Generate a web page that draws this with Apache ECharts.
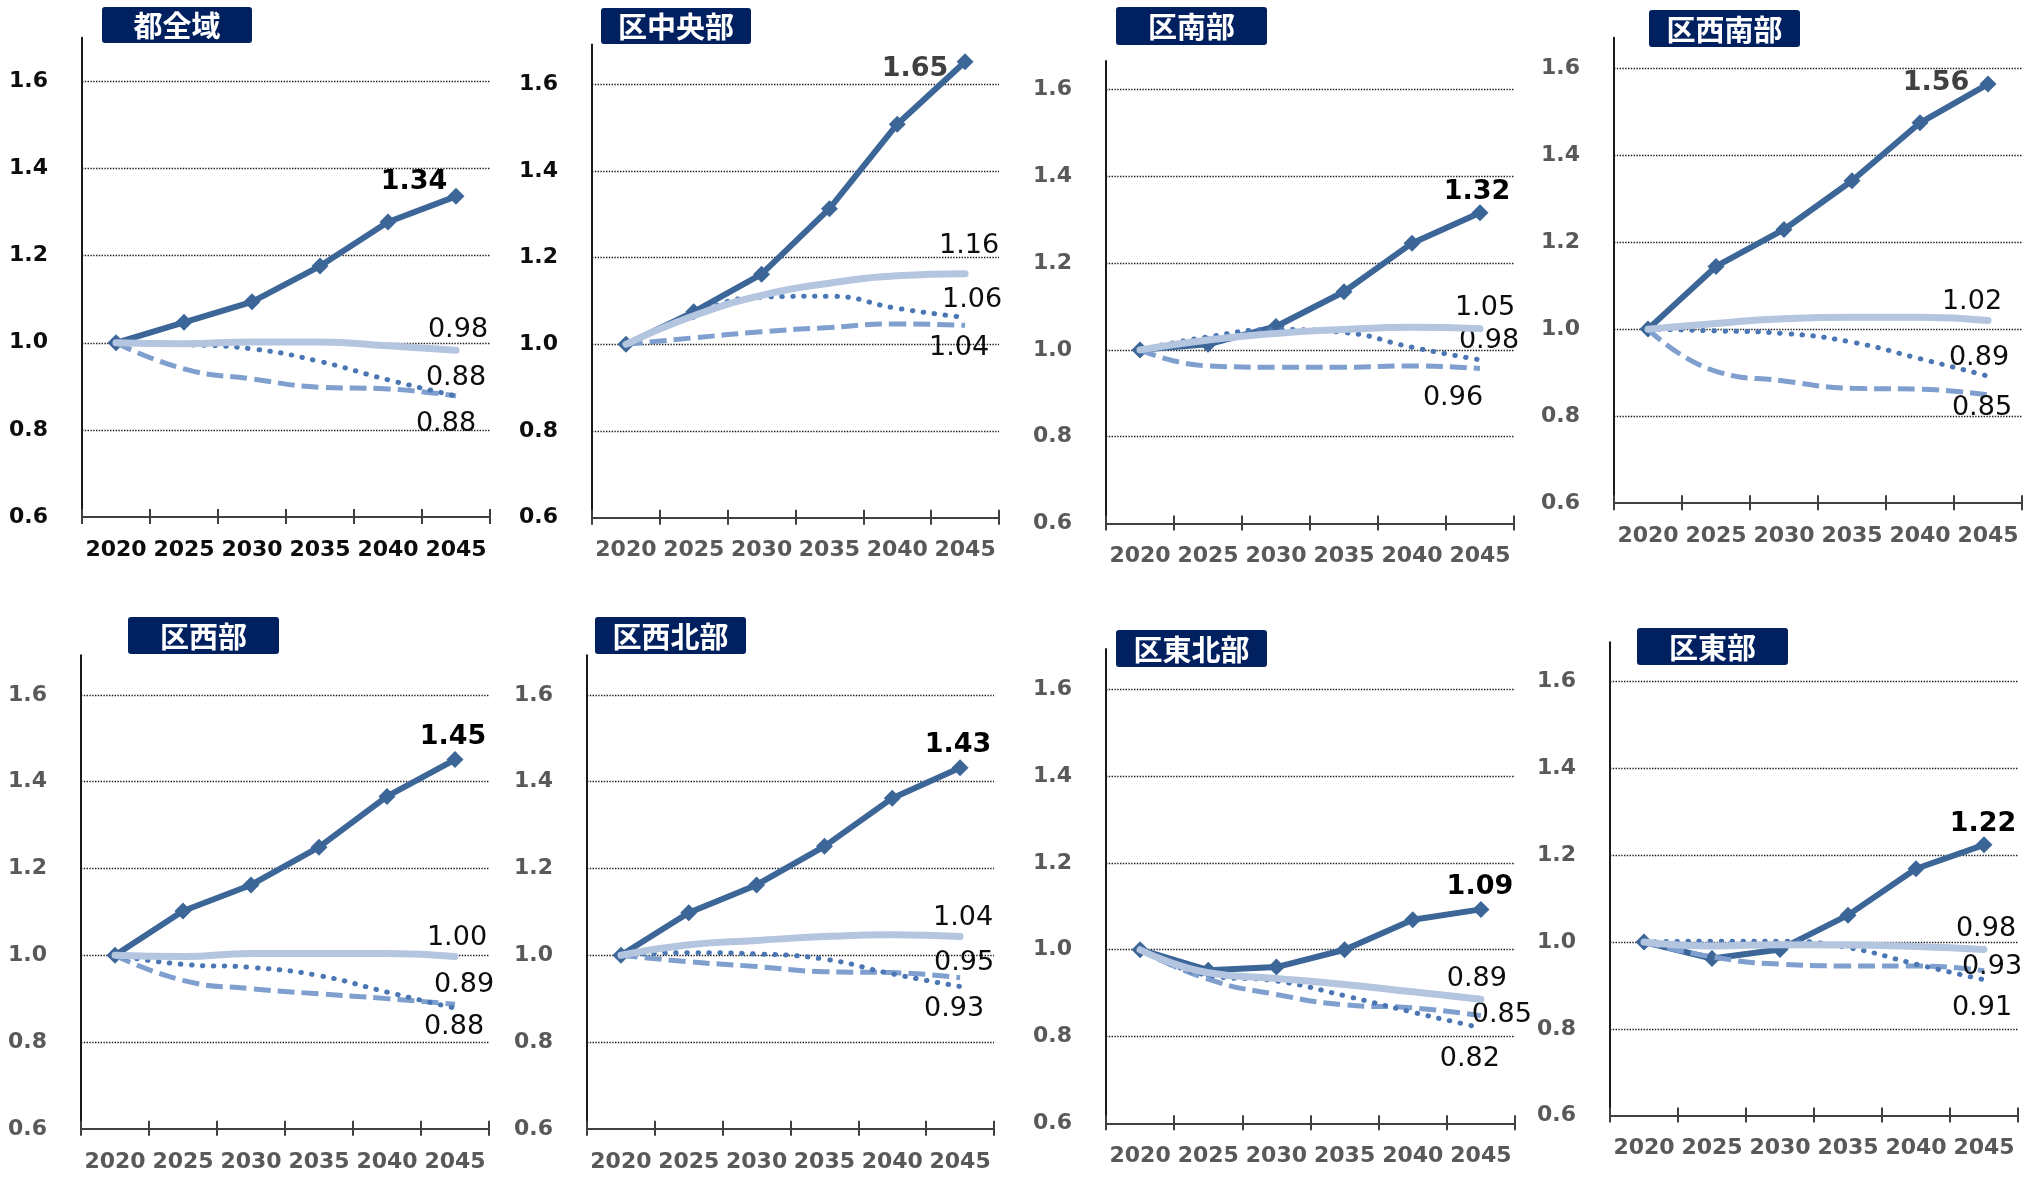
<!DOCTYPE html>
<html>
<head>
<meta charset="utf-8">
<script src="https://cdn.jsdelivr.net/npm/echarts@6/dist/echarts.min.js"></script>
<style>
html,body{margin:0;padding:0;background:#fff;}
#c{width:2026px;height:1177px;}
</style>
</head>
<body>
<div id="c"></div>
<script>
// ---- data ----
const years = ['2020','2025','2030','2035','2040','2045'];
const regions = ['都全域','区中央部','区南部','区西南部','区西部','区西北部','区東北部','区東部'];
const yTicks = [0.6, 0.8, 1.0, 1.2, 1.4, 1.6];

const mainValues = [
  [1.000,1.047,1.094,1.176,1.277,1.336],
  [1.000,1.075,1.162,1.313,1.508,1.652],
  [1.000,1.013,1.054,1.134,1.246,1.316],
  [1.000,1.144,1.229,1.341,1.474,1.563],
  [1.000,1.102,1.162,1.249,1.366,1.451],
  [1.000,1.098,1.162,1.251,1.362,1.432],
  [1.000,0.953,0.960,1.000,1.069,1.093],
  [1.000,0.962,0.983,1.062,1.169,1.224]
];
const lightValues = [
  [1.000,0.998,1.002,1.002,0.993,0.983],
  [1.000,1.066,1.113,1.141,1.158,1.163],
  [1.000,1.023,1.038,1.047,1.052,1.049],
  [1.000,1.013,1.024,1.027,1.027,1.020],
  [1.000,0.997,1.004,1.004,1.004,0.997],
  [1.000,1.024,1.034,1.043,1.047,1.043],
  [1.000,0.947,0.934,0.920,0.903,0.886],
  [1.000,0.991,0.994,0.993,0.990,0.983]
];
const dottedValues = [
  [1.000,0.996,0.986,0.957,0.915,0.878],
  [1.000,1.070,1.109,1.111,1.083,1.062],
  [1.000,1.030,1.047,1.040,1.006,0.977],
  [1.000,0.996,0.990,0.970,0.932,0.892],
  [1.000,0.979,0.972,0.953,0.915,0.878],
  [1.000,1.006,1.003,0.991,0.957,0.928],
  [1.000,0.941,0.928,0.894,0.856,0.820],
  [1.000,1.002,1.002,0.987,0.949,0.913]
];
const dashedValues = [
  [1.000,0.940,0.917,0.898,0.894,0.878],
  [1.000,1.015,1.029,1.039,1.047,1.044],
  [1.000,0.963,0.960,0.960,0.963,0.957],
  [1.000,0.903,0.881,0.864,0.862,0.849],
  [1.000,0.942,0.923,0.911,0.900,0.887],
  [1.000,0.985,0.974,0.962,0.960,0.948],
  [1.000,0.932,0.897,0.873,0.866,0.848],
  [1.000,0.966,0.949,0.945,0.945,0.934]
];

// ---- layout (pixels) ----
// [axisLeft, axisRight, axisTop, y of 1.6 gridline, y of 0.6 (x axis)]
const panelBox = [
  [82, 490, 37.7, 81.3, 517.1],
  [592, 999, 44.4, 84.3, 517.7],
  [1106, 1514, 61, 89.6, 523.4],
  [1614, 2022, 37.7, 68, 503.2],
  [81, 489, 655.2, 694.9, 1128.8],
  [587, 994, 655.2, 694.9, 1128.8],
  [1106, 1515, 648.9, 689.4, 1123.3],
  [1610, 2018, 642.3, 681.7, 1115.6]
];
// [x1, y1, x2, y2]
const titleBox = [
  [102, 7, 252, 43],
  [601, 8, 751, 44],
  [1116, 7, 1267, 45],
  [1649, 10, 1800, 47],
  [128, 617, 279, 654],
  [595, 617, 746, 654],
  [1116, 630, 1267, 667],
  [1637, 628, 1788, 665]
];
// label offsets [dx,dy] for main, light, dotted, dashed
const offMain   = [[-42,-14],[-50,7],[-3,-21],[-52,-1],[-2,-23],[-2,-23],[-1,-22],[-1,-21]];
const offLight  = [[2,-20],[4,-28],[5,-21],[-16,-18],[2,-19],[3,-19],[-4,-20],[2,-20]];
const offDotted = [[0,-18],[7,-17],[9,-19],[-9,-18],[-1,19],[-6,23],[-11,31],[-2,28]];
const offDashed = [[-10,28],[-6,23],[-27,29],[-6,13],[9,-19],[4,-15],[21,-1],[8,-4]];
const mainLabelColor = ['#000','#404040','#000','#404040','#000','#000','#000','#000'];
const yLabelColor = ['#0d0d0d','#0d0d0d','#595959','#595959','#595959','#595959','#595959','#595959'];
const xLabelColor = ['#0d0d0d','#595959','#595959','#595959','#595959','#595959','#595959','#595959'];

const C_MAIN = '#3d6698', C_LIGHT = '#b4c5df', C_DOT = '#4a76b4', C_DASH = '#7f9fcf';
const FONT = '"DejaVu Sans", Verdana, sans-serif';

const grids = [], xAxes = [], yAxes = [], series = [], graphics = [];

function withEndLabel(vals, offset, color, bold, keepSymbol) {
  const last = vals.length - 1;
  return vals.map((v, i) => {
    if (i !== last) return v;
    const item = {
      value: v,
      label: {
        show: true, position: 'inside', offset: offset,
        formatter: (p) => p.value.toFixed(2),
        color: color, fontFamily: FONT, fontSize: 27,
        fontWeight: bold ? 'bold' : 'normal', align: 'center', verticalAlign: 'middle'
      }
    };
    if (!keepSymbol) {
      item.symbol = 'circle';
      item.symbolSize = 2;
      item.itemStyle = {color: 'rgba(0,0,0,0)', borderWidth: 0};
    }
    return item;
  });
}

for (let i = 0; i < 8; i++) {
  const [L, R, T, g16, B] = panelBox[i];
  const step = (B - g16) / 5;
  const ymax = 1.6 + (g16 - T) / step * 0.2;
  grids.push({left: L, top: T, width: R - L, height: B - T, containLabel: false});
  xAxes.push({
    gridIndex: i, type: 'category', data: years, boundaryGap: true, position: 'bottom',
    axisLine: {show: true, lineStyle: {color: '#404040', width: 2}},
    axisTick: {show: true, length: 7, alignWithLabel: false, lineStyle: {color: '#404040', width: 2}},
    axisLabel: {margin: 22, color: xLabelColor[i], fontFamily: FONT, fontWeight: 'bold', fontSize: 22, interval: 0},
    splitLine: {show: false}
  });
  xAxes.push({
    gridIndex: i, type: 'category', data: years, boundaryGap: true, position: 'bottom', offset: 0,
    axisLine: {show: false},
    axisTick: {show: true, inside: true, length: 8, lineStyle: {color: '#404040', width: 2}},
    axisLabel: {show: false}, splitLine: {show: false}
  });
  yAxes.push({
    gridIndex: i, type: 'value', min: yTicks[0], max: ymax, interval: 0.2,
    axisLine: {show: true, lineStyle: {color: '#1a1a1a', width: 2}},
    axisTick: {show: false},
    axisLabel: {
      margin: 34, color: yLabelColor[i], fontFamily: FONT, fontWeight: 'bold', fontSize: 22,
      showMaxLabel: false, showMinLabel: true, padding: [0, 0, 5, 0],
      formatter: (v) => (yTicks.some(t => Math.abs(t - v) < 1e-6) ? v.toFixed(1) : '')
    },
    splitLine: {show: true, showMaxLine: false, showMinLine: false,
      lineStyle: {type: 'dotted', color: '#1a1a1a', width: 1.4}}
  });

  const xi = i * 2, yi = i;
  series.push({
    type: 'line', xAxisIndex: xi, yAxisIndex: yi, name: regions[i] + '-main',
    data: withEndLabel(mainValues[i], offMain[i], mainLabelColor[i], true, true),
    symbol: 'diamond', symbolSize: 17, showSymbol: true,
    itemStyle: {color: C_MAIN}, lineStyle: {color: C_MAIN, width: 6}, z: 2
  });
  series.push({
    type: 'line', xAxisIndex: xi, yAxisIndex: yi, name: regions[i] + '-dash',
    data: withEndLabel(dashedValues[i], offDashed[i], '#0d0d0d', false, false),
    symbol: 'none', smooth: 0.5,
    lineStyle: {color: C_DASH, width: 5, type: [17, 7], cap: 'butt'}, z: 3
  });
  series.push({
    type: 'line', xAxisIndex: xi, yAxisIndex: yi, name: regions[i] + '-dot',
    data: withEndLabel(dottedValues[i], offDotted[i], '#0d0d0d', false, false),
    symbol: 'none', smooth: 0.5,
    lineStyle: {color: C_DOT, width: 5, type: [0.5, 10.5], cap: 'round'}, z: 4
  });
  series.push({
    type: 'line', xAxisIndex: xi, yAxisIndex: yi, name: regions[i] + '-light',
    data: withEndLabel(lightValues[i], offLight[i], '#0d0d0d', false, false),
    symbol: 'none', smooth: 0.5,
    lineStyle: {color: C_LIGHT, width: 7, cap: 'round'}, z: 5
  });

  const [x1, y1, x2, y2] = titleBox[i];
  graphics.push({
    type: 'rect', left: x1, top: y1, z: 100,
    shape: {width: x2 - x1, height: y2 - y1, r: 3},
    style: {fill: '#002060'}
  });
  graphics.push({
    type: 'text', z: 101,
    x: (x1 + x2) / 2, y: (y1 + y2) / 2 + 1,
    style: {
      text: regions[i], fill: '#ffffff',
      font: 'bold 29px "Noto Sans CJK JP"',
      align: 'center', verticalAlign: 'middle'
    }
  });
}

const chart = echarts.init(document.getElementById('c'), null, {renderer: 'canvas'});
chart.setOption({
  animation: false,
  backgroundColor: '#ffffff',
  grid: grids, xAxis: xAxes, yAxis: yAxes, series: series, graphic: graphics
});
</script>
</body>
</html>
